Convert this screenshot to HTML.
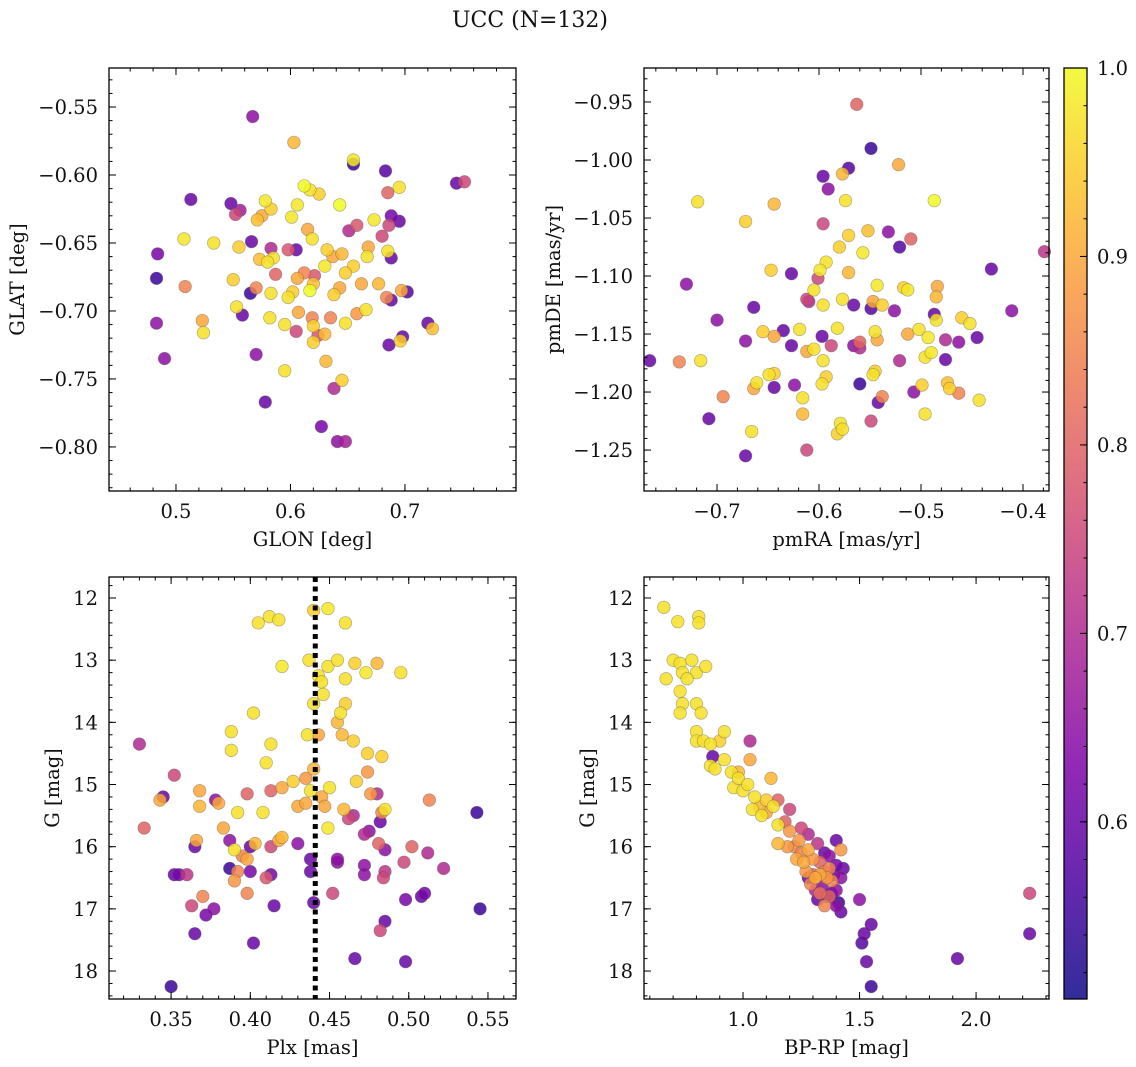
<!DOCTYPE html>
<html><head><meta charset="utf-8"><style>
html,body{margin:0;padding:0;background:#fff;width:1136px;height:1067px;overflow:hidden}
svg text{font-family:"DejaVu Serif","Liberation Serif",serif;fill:#111}
</style></head><body>
<svg id="fig" width="1136" height="1067" viewBox="0 0 1136 1067" xmlns="http://www.w3.org/2000/svg">
<text x="530" y="27" font-size="22" text-anchor="middle">UCC (N=132)</text>
</svg>
<script>
// ---- data: [x, y, membership probability]
const glonGlat = [[0.567,-0.557,0.65],[0.603,-0.576,0.92],[0.655,-0.589,0.98],[0.655,-0.592,0.55],[0.683,-0.597,0.58],[0.745,-0.606,0.6],[0.752,-0.605,0.75],[0.513,-0.618,0.6],[0.548,-0.621,0.6],[0.552,-0.629,0.75],[0.556,-0.626,0.68],[0.578,-0.619,0.98],[0.583,-0.625,0.95],[0.606,-0.622,0.98],[0.612,-0.608,1],[0.617,-0.611,0.97],[0.625,-0.614,0.95],[0.643,-0.622,1],[0.685,-0.613,0.8],[0.695,-0.609,0.97],[0.688,-0.630,0.62],[0.695,-0.634,0.6],[0.686,-0.637,0.75],[0.571,-0.633,0.93],[0.575,-0.630,0.9],[0.601,-0.631,0.98],[0.615,-0.640,0.9],[0.658,-0.637,0.78],[0.651,-0.641,0.7],[0.673,-0.633,0.98],[0.507,-0.647,0.98],[0.533,-0.650,0.97],[0.555,-0.653,0.95],[0.566,-0.649,0.6],[0.583,-0.654,0.7],[0.585,-0.661,0.97],[0.598,-0.655,0.78],[0.605,-0.655,0.6],[0.619,-0.647,0.97],[0.632,-0.655,0.95],[0.637,-0.660,0.9],[0.645,-0.658,0.92],[0.655,-0.667,0.95],[0.667,-0.660,0.97],[0.668,-0.653,0.9],[0.680,-0.645,0.75],[0.685,-0.656,0.97],[0.688,-0.661,0.6],[0.484,-0.658,0.62],[0.483,-0.676,0.55],[0.508,-0.682,0.85],[0.550,-0.677,0.95],[0.565,-0.687,0.55],[0.570,-0.683,0.85],[0.573,-0.662,0.93],[0.580,-0.664,0.97],[0.587,-0.673,0.8],[0.583,-0.687,0.97],[0.598,-0.690,0.97],[0.602,-0.686,0.95],[0.606,-0.676,0.9],[0.612,-0.672,0.85],[0.620,-0.680,0.93],[0.617,-0.685,1],[0.621,-0.674,0.78],[0.630,-0.667,0.98],[0.638,-0.688,0.95],[0.643,-0.683,0.9],[0.648,-0.672,0.95],[0.662,-0.680,0.9],[0.677,-0.680,0.92],[0.684,-0.690,0.85],[0.688,-0.692,0.6],[0.697,-0.685,0.9],[0.702,-0.686,0.58],[0.523,-0.707,0.9],[0.524,-0.716,0.97],[0.553,-0.697,0.97],[0.558,-0.703,0.6],[0.582,-0.705,0.97],[0.595,-0.710,0.97],[0.605,-0.715,0.75],[0.607,-0.701,0.9],[0.619,-0.705,0.85],[0.620,-0.711,0.95],[0.624,-0.718,0.78],[0.630,-0.717,0.92],[0.635,-0.705,0.85],[0.648,-0.709,0.97],[0.658,-0.702,0.88],[0.666,-0.699,0.97],[0.698,-0.719,0.6],[0.696,-0.722,0.95],[0.720,-0.709,0.6],[0.724,-0.713,0.93],[0.483,-0.709,0.65],[0.490,-0.735,0.65],[0.570,-0.732,0.65],[0.595,-0.744,0.97],[0.620,-0.723,0.95],[0.631,-0.737,0.92],[0.638,-0.757,0.7],[0.645,-0.751,0.95],[0.686,-0.725,0.6],[0.578,-0.767,0.6],[0.627,-0.785,0.62],[0.641,-0.796,0.65],[0.648,-0.796,0.68]];
const pmPoints = [[-0.563,-0.952,0.8],[-0.549,-0.990,0.55],[-0.571,-1.007,0.58],[-0.522,-1.004,0.9],[-0.596,-1.014,0.6],[-0.577,-1.012,0.92],[-0.591,-1.025,0.65],[-0.719,-1.036,0.97],[-0.672,-1.053,0.95],[-0.644,-1.038,0.92],[-0.574,-1.035,0.97],[-0.487,-1.035,1],[-0.596,-1.055,0.75],[-0.571,-1.065,0.95],[-0.552,-1.061,0.93],[-0.532,-1.062,0.65],[-0.510,-1.068,0.8],[-0.580,-1.075,0.95],[-0.557,-1.080,0.98],[-0.521,-1.075,0.58],[-0.379,-1.079,0.72],[-0.647,-1.095,0.95],[-0.627,-1.098,0.6],[-0.599,-1.095,0.98],[-0.593,-1.088,0.97],[-0.601,-1.102,0.75],[-0.571,-1.097,0.92],[-0.543,-1.108,0.98],[-0.517,-1.110,0.95],[-0.431,-1.094,0.6],[-0.730,-1.107,0.65],[-0.605,-1.112,0.97],[-0.577,-1.120,0.97],[-0.513,-1.112,0.98],[-0.484,-1.109,0.9],[-0.485,-1.118,0.92],[-0.612,-1.120,0.75],[-0.596,-1.125,0.97],[-0.610,-1.122,0.7],[-0.566,-1.125,0.6],[-0.547,-1.122,0.9],[-0.538,-1.125,0.95],[-0.549,-1.128,0.58],[-0.526,-1.130,0.65],[-0.502,-1.146,0.97],[-0.487,-1.133,0.6],[-0.485,-1.138,0.97],[-0.460,-1.136,0.95],[-0.452,-1.141,0.97],[-0.700,-1.138,0.65],[-0.664,-1.127,0.6],[-0.655,-1.148,0.95],[-0.644,-1.152,0.9],[-0.635,-1.147,0.6],[-0.619,-1.146,0.97],[-0.597,-1.152,0.6],[-0.582,-1.145,0.97],[-0.560,-1.157,0.8],[-0.545,-1.148,0.97],[-0.543,-1.155,0.9],[-0.513,-1.150,0.9],[-0.493,-1.153,0.98],[-0.476,-1.155,0.7],[-0.463,-1.157,0.65],[-0.445,-1.153,0.6],[-0.411,-1.130,0.65],[-0.766,-1.173,0.6],[-0.737,-1.174,0.85],[-0.716,-1.173,0.97],[-0.672,-1.156,0.65],[-0.649,-1.185,0.97],[-0.644,-1.184,0.95],[-0.627,-1.160,0.6],[-0.612,-1.165,0.9],[-0.605,-1.163,0.97],[-0.596,-1.173,0.97],[-0.588,-1.160,0.75],[-0.566,-1.160,0.65],[-0.560,-1.162,0.7],[-0.545,-1.182,0.95],[-0.547,-1.185,0.97],[-0.521,-1.173,0.7],[-0.496,-1.170,0.97],[-0.490,-1.166,0.98],[-0.476,-1.172,0.6],[-0.661,-1.192,0.97],[-0.664,-1.197,0.9],[-0.644,-1.196,0.6],[-0.624,-1.194,0.65],[-0.616,-1.205,0.97],[-0.597,-1.193,0.97],[-0.593,-1.187,0.95],[-0.560,-1.193,0.55],[-0.542,-1.209,0.6],[-0.538,-1.204,0.85],[-0.507,-1.200,0.65],[-0.499,-1.194,0.95],[-0.474,-1.192,0.93],[-0.472,-1.197,0.95],[-0.463,-1.201,0.85],[-0.443,-1.207,0.97],[-0.694,-1.204,0.85],[-0.708,-1.223,0.6],[-0.666,-1.234,0.97],[-0.616,-1.219,0.92],[-0.579,-1.227,0.97],[-0.577,-1.232,0.97],[-0.582,-1.236,0.95],[-0.549,-1.225,0.75],[-0.496,-1.219,0.97],[-0.672,-1.255,0.6],[-0.612,-1.250,0.75]];
const plxG = [[0.440,12.2,0.95],[0.412,12.3,0.97],[0.418,12.35,0.97],[0.405,12.4,0.97],[0.449,12.17,0.98],[0.460,12.4,0.97],[0.420,13.1,0.98],[0.437,13.0,0.97],[0.449,13.1,0.97],[0.443,13.25,0.97],[0.445,13.35,0.97],[0.455,13.0,0.97],[0.466,13.05,0.95],[0.460,13.3,0.97],[0.473,13.2,0.98],[0.480,13.05,0.92],[0.495,13.2,0.97],[0.446,13.55,0.97],[0.440,13.7,0.97],[0.460,13.7,0.95],[0.457,13.85,0.97],[0.455,14.0,0.92],[0.402,13.85,0.97],[0.330,14.35,0.7],[0.388,14.15,0.97],[0.388,14.45,0.97],[0.413,14.35,0.97],[0.436,14.2,0.97],[0.443,14.2,0.9],[0.458,14.2,0.92],[0.465,14.3,0.95],[0.474,14.5,0.95],[0.474,14.8,0.88],[0.483,14.55,0.95],[0.343,15.25,0.9],[0.345,15.2,0.6],[0.352,14.85,0.75],[0.368,15.1,0.9],[0.368,15.35,0.92],[0.378,15.25,0.65],[0.380,15.3,0.9],[0.392,15.45,0.97],[0.398,15.15,0.8],[0.408,15.45,0.97],[0.410,14.65,0.97],[0.413,15.1,0.8],[0.420,15.05,0.9],[0.427,14.95,0.95],[0.430,15.35,0.9],[0.435,15.3,0.9],[0.435,14.9,0.88],[0.438,15.1,0.97],[0.440,14.75,0.92],[0.445,15.2,0.9],[0.447,15.35,0.9],[0.450,15.05,0.97],[0.449,15.7,0.98],[0.459,15.4,0.92],[0.467,14.95,0.95],[0.476,15.15,0.88],[0.480,15.15,0.7],[0.483,15.45,0.85],[0.485,15.4,0.97],[0.333,15.7,0.8],[0.366,15.9,0.9],[0.383,15.7,0.9],[0.365,16.0,0.6],[0.387,15.9,0.65],[0.390,16.05,0.97],[0.395,16.15,0.85],[0.398,16.2,0.9],[0.400,16.0,0.6],[0.403,15.95,0.92],[0.413,16.0,0.75],[0.420,15.85,0.92],[0.418,15.9,0.9],[0.430,15.95,0.65],[0.438,16.2,0.6],[0.455,16.25,0.65],[0.462,15.55,0.75],[0.465,15.5,0.7],[0.472,15.8,0.7],[0.475,15.75,0.65],[0.482,15.6,0.6],[0.481,15.95,0.8],[0.485,16.05,0.65],[0.497,16.25,0.75],[0.502,16.0,0.8],[0.512,16.1,0.7],[0.513,15.25,0.85],[0.352,16.45,0.6],[0.355,16.45,0.62],[0.360,16.45,0.72],[0.363,16.95,0.75],[0.370,16.8,0.85],[0.377,17.0,0.65],[0.372,17.1,0.62],[0.387,16.35,0.55],[0.390,16.55,0.88],[0.392,16.4,0.85],[0.398,16.75,0.85],[0.400,16.4,0.62],[0.410,16.5,0.78],[0.413,16.45,0.62],[0.415,16.95,0.6],[0.438,16.4,0.6],[0.452,16.75,0.75],[0.455,16.2,0.65],[0.472,16.45,0.65],[0.472,16.3,0.65],[0.484,16.5,0.75],[0.485,16.4,0.72],[0.498,16.85,0.62],[0.508,16.8,0.6],[0.510,16.75,0.62],[0.522,16.35,0.7],[0.545,17.0,0.55],[0.543,15.45,0.55],[0.350,18.25,0.55],[0.365,17.4,0.6],[0.402,17.55,0.6],[0.440,16.9,0.6],[0.466,17.8,0.6],[0.482,17.35,0.75],[0.485,17.2,0.6],[0.498,17.85,0.6]];
const cmdPoints = [[0.66,12.15,0.97],[0.81,12.3,0.97],[0.81,12.4,0.97],[0.72,12.38,0.97],[0.67,13.3,0.97],[0.70,13.0,0.97],[0.73,13.05,0.97],[0.78,13.0,0.97],[0.74,13.2,0.97],[0.80,13.2,0.97],[0.84,13.1,0.97],[0.76,13.3,0.97],[0.73,13.5,0.97],[0.74,13.7,0.97],[0.73,13.85,0.97],[0.80,13.7,0.97],[0.82,13.85,0.97],[0.80,14.15,0.97],[0.80,14.3,0.97],[0.83,14.3,0.97],[0.86,14.35,0.97],[0.92,14.15,0.97],[0.90,14.3,0.95],[0.87,14.55,0.6],[0.86,14.7,0.97],[0.88,14.75,0.97],[0.92,14.6,0.97],[0.95,14.8,0.97],[0.98,14.8,0.92],[0.96,15.05,0.97],[1.00,15.1,0.97],[0.98,14.9,0.97],[1.03,14.6,0.9],[1.03,14.3,0.7],[1.02,15.0,0.97],[1.05,15.2,0.97],[1.07,15.35,0.92],[1.04,15.4,0.97],[1.08,15.5,0.97],[1.12,14.9,0.92],[1.10,15.25,0.95],[1.10,15.45,0.9],[1.13,15.35,0.97],[1.15,15.25,0.8],[1.15,15.65,0.97],[1.15,15.95,0.92],[1.18,15.6,0.8],[1.20,15.4,0.75],[1.20,15.75,0.88],[1.22,16.0,0.85],[1.24,15.9,0.88],[1.25,15.7,0.75],[1.25,16.1,0.85],[1.28,15.8,0.7],[1.28,16.05,0.9],[1.30,16.2,0.88],[1.30,16.45,0.8],[1.32,15.95,0.72],[1.33,16.25,0.8],[1.35,16.1,0.6],[1.35,16.4,0.85],[1.37,16.15,0.65],[1.37,16.35,0.85],[1.38,16.55,0.85],[1.40,15.9,0.6],[1.42,16.05,0.88],[1.40,16.3,0.62],[1.42,16.5,0.65],[1.43,16.35,0.6],[1.38,16.75,0.6],[1.40,16.95,0.65],[1.37,16.8,0.8],[1.35,16.95,0.85],[1.33,16.75,0.82],[1.36,16.8,0.55],[1.32,16.85,0.6],[1.28,16.5,0.6],[1.34,16.65,0.65],[1.36,16.5,0.88],[1.33,16.45,0.9],[1.31,16.5,0.9],[1.39,16.45,0.6],[1.40,16.7,0.65],[1.42,17.05,0.6],[1.41,16.9,0.55],[1.50,16.85,0.65],[1.52,17.4,0.6],[1.51,17.55,0.58],[1.53,17.85,0.6],[1.55,17.25,0.6],[1.55,18.25,0.55],[1.92,17.8,0.6],[2.23,16.75,0.75],[2.23,17.4,0.6],[1.19,16.0,0.88],[1.23,16.2,0.9],[1.26,16.25,0.9],[1.27,16.4,0.88],[1.29,16.6,0.85],[1.31,16.7,0.7]];
const plxLine = 0.441;
const cbarMin = 0.506, cbarMax = 1.0;
const cbarTicks = [0.6, 0.7, 0.8, 0.9, 1.0];
const p1XTicks = [0.5, 0.6, 0.7], p1YTicks = [-0.55, -0.60, -0.65, -0.70, -0.75, -0.80];
const p2XTicks = [-0.7, -0.6, -0.5, -0.4], p2YTicks = [-0.95, -1.00, -1.05, -1.10, -1.15, -1.20, -1.25];
const p3XTicks = [0.35, 0.40, 0.45, 0.50, 0.55], gTicks = [12, 13, 14, 15, 16, 17, 18];
const p4XTicks = [1.0, 1.5, 2.0];

const NS = "http://www.w3.org/2000/svg";
const svg = document.getElementById('fig');
const FS = 19.5;
function el(tag, attrs, parent) { const e = document.createElementNS(NS, tag); for (const k in attrs) e.setAttribute(k, attrs[k]); (parent || svg).appendChild(e); return e; }

const stops = [[13,8,135],[76,2,161],[126,3,168],[169,35,149],[204,71,120],[229,107,93],[248,148,65],[253,195,40],[240,249,33]];
function cmap(p) {
  let t = (p - cbarMin) / (cbarMax - cbarMin); t = Math.max(0, Math.min(1, t));
  const s = t * 8, i = Math.min(7, Math.floor(s)), f = s - i;
  const c = stops[i].map((v, k) => Math.round(v + (stops[i + 1][k] - v) * f));
  return `rgb(${c[0]},${c[1]},${c[2]})`;
}
function fmt(v, d) { return (v < 0 ? '\u2212' : '') + Math.abs(v).toFixed(d); }

function panel(cfg) {
  const g = el('g', {});
  
  
  const {L, T, R, B} = cfg;
  const sx = v => L + (v - cfg.x0) / (cfg.x1 - cfg.x0) * (R - L);
  const sy = cfg.invert ? (v => T + (v - cfg.y0) / (cfg.y1 - cfg.y0) * (B - T)) : (v => B - (v - cfg.y0) / (cfg.y1 - cfg.y0) * (B - T));
  const pg = el('g', {}, g);
  
  
  const pts = cfg.pts.slice().sort((a, b) => a[2] - b[2]);
  pts.forEach(p => {
    const c = el('circle', {cx: sx(p[0]), cy: sy(p[1]), r: 6.3, fill: cmap(p[2]), 'fill-opacity': 0.85, stroke: '#555', 'stroke-opacity': 0.45, 'stroke-width': 0.7}, pg);
    
    
  });
  if (cfg.vline !== undefined) {
    const ln = el('line', {x1: sx(cfg.vline), x2: sx(cfg.vline), y1: T, y2: B, stroke: '#000', 'stroke-width': 5, 'stroke-dasharray': '5,4.5'}, g);
    
    
  }
  const fr = el('rect', {x: L, y: T, width: R - L, height: B - T, fill: 'none', stroke: '#000', 'stroke-width': 1.3}, g);
  
  
  const tk = el('g', {stroke: '#000', 'stroke-width': 1}, g);
  const lo = Math.min(cfg.x0, cfg.x1), hi = Math.max(cfg.x0, cfg.x1);
  for (let k = Math.ceil(lo / cfg.xm - 1e-6); k * cfg.xm <= hi + 1e-9; k++) {
    const x = sx(k * cfg.xm);
    el('line', {x1: x, x2: x, y1: B, y2: B - 3.5}, tk); el('line', {x1: x, x2: x, y1: T, y2: T + 3.5}, tk);
  }
  const ylo = Math.min(cfg.y0, cfg.y1), yhi = Math.max(cfg.y0, cfg.y1);
  for (let k = Math.ceil(ylo / cfg.ym - 1e-6); k * cfg.ym <= yhi + 1e-9; k++) {
    const y = sy(k * cfg.ym);
    el('line', {x1: L, x2: L + 3.5, y1: y, y2: y}, tk); el('line', {x1: R, x2: R - 3.5, y1: y, y2: y}, tk);
  }
  cfg.xt.forEach(v => {
    const x = sx(v);
    el('line', {x1: x, x2: x, y1: B, y2: B - 7}, tk); el('line', {x1: x, x2: x, y1: T, y2: T + 7}, tk);
    const t = el('text', {x: x, y: B + 27, 'font-size': FS, 'text-anchor': 'middle'}, g); t.textContent = fmt(v, cfg.xd);
    
    
  });
  cfg.yt.forEach(v => {
    const y = sy(v);
    el('line', {x1: L, x2: L + 7, y1: y, y2: y}, tk); el('line', {x1: R, x2: R - 7, y1: y, y2: y}, tk);
    const t = el('text', {x: L - 11, y: y + 7, 'font-size': FS, 'text-anchor': 'end'}, g); t.textContent = fmt(v, cfg.yd);
    
    
  });
  const xl = el('text', {x: (L + R) / 2, y: B + 55, 'font-size': FS, 'text-anchor': 'middle'}, g); xl.textContent = cfg.xlab;
  
  
  const yx = cfg.ylx, yy = (T + B) / 2;
  const yl = el('text', {x: yx, y: yy, 'font-size': FS, 'text-anchor': 'middle', transform: `rotate(-90 ${yx} ${yy})`}, g); yl.textContent = cfg.ylab;
  
  
}

panel({name: 'glon-glat-panel', L: 109, T: 68, R: 516, B: 491, x0: 0.4415, x1: 0.797, y0: -0.8324, y1: -0.5213, pts: glonGlat, xt: p1XTicks, yt: p1YTicks, xm: 0.02, ym: 0.01, xd: 1, yd: 2, xlab: 'GLON [deg]', ylab: 'GLAT [deg]', ylx: 24});
panel({name: 'proper-motion-panel', L: 644, T: 68, R: 1049, B: 491, x0: -0.7716, x1: -0.3745, y0: -1.2853, y1: -0.9207, pts: pmPoints, xt: p2XTicks, yt: p2YTicks, xm: 0.02, ym: 0.01, xd: 1, yd: 2, xlab: 'pmRA [mas/yr]', ylab: 'pmDE [mas/yr]', ylx: 560});
panel({name: 'plx-g-panel', L: 109, T: 577, R: 516, B: 999, x0: 0.3108, x1: 0.5677, y0: 11.662, y1: 18.45, invert: true, pts: plxG, xt: p3XTicks, yt: gTicks, xm: 0.01, ym: 0.2, xd: 2, yd: 0, xlab: 'Plx [mas]', ylab: 'G [mag]', ylx: 59, vline: plxLine});
panel({name: 'cmd-panel', L: 644, T: 577, R: 1049, B: 999, x0: 0.575, x1: 2.313, y0: 11.662, y1: 18.45, invert: true, pts: cmdPoints, xt: p4XTicks, yt: gTicks, xm: 0.1, ym: 0.2, xd: 1, yd: 0, xlab: 'BP-RP [mag]', ylab: 'G [mag]', ylx: 594});

(function () {
  const L = 1064, R = 1087, T = 68, B = 999;
  const cg = el('g', {});
  
  
  const defs = el('defs', {}, cg);
  const lg = el('linearGradient', {id: 'cbg', x1: 0, y1: 1, x2: 0, y2: 0}, defs);
  for (let i = 0; i <= 20; i++) { const p = cbarMin + (cbarMax - cbarMin) * i / 20; el('stop', {offset: i / 20, 'stop-color': cmap(p), 'stop-opacity': 0.85}, lg); }
  el('rect', {x: L, y: T, width: R - L, height: B - T, fill: 'url(#cbg)', stroke: '#000', 'stroke-width': 1.3}, cg);
  const sy = v => B - (v - cbarMin) / (cbarMax - cbarMin) * (B - T);
  for (let k = 26; k <= 50; k++) { const y = sy(k * 0.02); el('line', {x1: R, x2: R - 3.5, y1: y, y2: y, stroke: '#000', 'stroke-width': 1}, cg); }
  cbarTicks.forEach(v => {
    const y = sy(v);
    el('line', {x1: R, x2: R - 7, y1: y, y2: y, stroke: '#000', 'stroke-width': 1}, cg);
    const t = el('text', {x: R + 10, y: y + 7, 'font-size': FS}, cg); t.textContent = v.toFixed(1);
    
    
  });
})();
</script>
</body></html>
